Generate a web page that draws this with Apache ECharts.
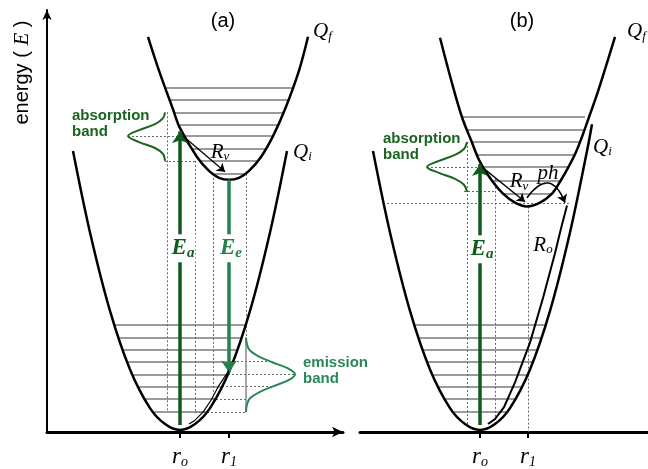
<!DOCTYPE html>
<html>
<head>
<meta charset="utf-8">
<script src="https://cdn.jsdelivr.net/npm/echarts@6/dist/echarts.min.js"></script>
<style>
  html, body { margin: 0; padding: 0; background: #fff; }
  #main { width: 648px; height: 469px; }
</style>
</head>
<body>
<div id="main"></div>
<script>
// x = configuration coordinate, E = energy (arbitrary units)
// ---- panel (a) ----
const qiA = [[26,283],[43,201],[63,122],[83,63],[103,24],[118,8],[133,2],[148,8],[163,24],[183,63],[203,122],[223,201],[240,283]];
const qfA = [[101,398],[112,364],[126,325],[133,306],[150,277],[162,263],[172,256],[182,254],[192,256],[202,263],[214,277],[226,298],[238,325],[252,364],[261,398]];
const qiLevelsA = [[67,199,108],[71,195,95],[76,190,83],[80,186,71],[85,181,58],[91,175,46],[97,169,33],[106,160,20]];
const qfLevelsA = [[118,246,347],[122,242,335],[127,237,322],[133,231,309],[138,226,298],[145,219,285],[153,211,273],[166,198,260]];
const absBandA = [[118,322],[116,316],[108,310],[92,304],[81,298],[92,292],[108,286],[116,280],[118,273]];
const emiBandA = [[199,95],[200,88],[203,82],[212,76],[226,70],[241,64],[248,58],[241,52],[226,46],[212,40],[203,34],[200,28],[199,20]];
const dotHA = [[81,133,298],[118,148,273],[186,224,71],[181,248,58],[175,226,46],[169,203,33],[148,199,20]];
const dotVA = [[120,322,20],[148,273,20],[166,260,33],[199,260,95]];
const eaA = [[133,7],[133,303]];
const eeA = [[182,254],[182,60]];
const rvA = [[136,298],[178,262]];
const relaxA = [[182,62],[172,47],[164,32],[156,20],[147,11],[142,8]];
const tickA = [133, 182];

// ---- panel (b) ----
const qiB = [[26,283],[43,201],[63,122],[83,63],[103,24],[118,8],[133,2],[148,8],[163,24],[183,63],[203,122],[223,201],[240,283],[245,310]];
const qfB = [[93,397],[104,355],[115,317],[124,294],[133,272],[145,253],[156,240],[168,231],[180,227],[193,231],[205,240],[213,252],[221,266],[229,282],[236,300],[243,320],[251,343],[268,398]];
const qiLevelsB = qiLevelsA;
const qfLevelsB = [[115,238,317],[119,236,304],[124,234,292],[130,229,279],[135,221,267],[145,213,253],[156,205,240]];
const absBandB = [[120,292],[117,285],[108,279],[92,273],[80,267],[92,261],[108,255],[117,249],[120,242]];
const dotHB = [[80,133,267],[117,148,242],[40,223,230]];
const dotVB = [[120,292,8],[148,255,12],[181,227,0]];
const eaB = [[133,7],[133,270]];
const rvB = [[136,266],[178,232]];
const phB = [[180,236],[218,231]];
const roB = [[220,228],[214,205],[208,180],[196,135],[183,90],[168,50],[157,25],[148,13],[141,8]];
const tickB = [133, 181];
const tickSubs = ['o', '1'];

const DARK = '#0f5a1c', EMI = '#23804f', ABS_TXT = '#1a6420', EMI_TXT = '#2a8758';
const SERIF = 'Liberation Serif', SANS = 'Liberation Sans';

const chart = echarts.init(document.getElementById('main'));

function curve(pts, g, color, width) {
  return { type: 'line', xAxisIndex: g, yAxisIndex: g, data: pts, smooth: 0.35, symbol: 'none',
    lineStyle: { color: color || '#000', width: width || 2.5 }, z: 5, silent: true };
}
function hsegs(rows, g, style, z) {
  return { type: 'lines', coordinateSystem: 'cartesian2d', xAxisIndex: g, yAxisIndex: g, z: z || 2, silent: true,
    data: rows.map(r => ({ coords: [[r[0], r[2]], [r[1], r[2]]] })), lineStyle: style };
}
function vsegs(rows, g, style, z) {
  return { type: 'lines', coordinateSystem: 'cartesian2d', xAxisIndex: g, yAxisIndex: g, z: z || 2, silent: true,
    data: rows.map(r => ({ coords: [[r[0], r[1]], [r[0], r[2]]] })), lineStyle: style };
}
function arrow(pts, g, color, width, size, curveness) {
  return { type: 'lines', coordinateSystem: 'cartesian2d', xAxisIndex: g, yAxisIndex: g, z: 6, silent: true,
    polyline: pts.length > 2, symbol: ['none', 'arrow'], symbolSize: size,
    data: [{ coords: pts }], lineStyle: { color: color, width: width, opacity: 1, curveness: curveness || 0 } };
}
const levelStyle = { color: '#7a7a7a', width: 1.5, opacity: 1 };
const dotStyle = { color: '#666', width: 1, type: [2, 2], opacity: 1 };

const rich = {
  it: { fontFamily: SERIF, fontStyle: 'italic', fontSize: 21, color: '#000' },
  sub: { fontFamily: SERIF, fontStyle: 'italic', fontSize: 13, color: '#000', padding: [9, 0, 0, 0] },
  eg: { fontFamily: SERIF, fontStyle: 'italic', fontWeight: 'bold', fontSize: 23, color: DARK },
  egs: { fontFamily: SERIF, fontStyle: 'italic', fontWeight: 'bold', fontSize: 15, color: DARK, padding: [9, 0, 0, 0] },
  ee: { fontFamily: SERIF, fontStyle: 'italic', fontWeight: 'bold', fontSize: 23, color: EMI },
  ees: { fontFamily: SERIF, fontStyle: 'italic', fontWeight: 'bold', fontSize: 15, color: EMI, padding: [9, 0, 0, 0] },
  sans: { fontFamily: SANS, fontSize: 20, color: '#000' },
  eitalic: { fontFamily: SERIF, fontStyle: 'italic', fontSize: 21, color: '#000' }
};

function txt(x, e, text, align, extra) {
  return { value: [x, e], label: Object.assign({ show: true, formatter: text, align: align || 'center',
    verticalAlign: 'middle', position: 'inside', rich: rich }, extra || {}) };
}
const whiteBg = { backgroundColor: '#fff', padding: [2, 1, 2, 1] };
const bandStyle = (c) => ({ fontFamily: SANS, fontSize: 15, fontWeight: 'bold', color: c, lineHeight: 16 });

const labelsA = [
  txt(176, 413, '{sans|(a)}'),
  txt(266, 403, '{it|Q}{sub|f}', 'left'),
  txt(246, 282, '{it|Q}{sub|i}', 'left'),
  txt(25, 310, 'absorption\nband', 'left', bandStyle(ABS_TXT)),
  txt(256, 62, 'emission\nband', 'left', bandStyle(EMI_TXT)),
  txt(136, 185, '{eg|E}{egs|a}', 'center', whiteBg),
  txt(184, 185, '{ee|E}{ees|e}', 'center', whiteBg),
  txt(173, 282, '{it|R}{sub|v}'),
  txt(-25, 362, '{sans|energy ( }{eitalic|E}{sans| )}', 'center', { rotate: 90 })
];
const labelsB = [
  txt(175, 413, '{sans|(b)}'),
  txt(280, 403, '{it|Q}{sub|f}', 'left'),
  txt(246, 287, '{it|Q}{sub|i}', 'left'),
  txt(36, 287, 'absorption\nband', 'left', bandStyle(ABS_TXT)),
  txt(135, 184, '{eg|E}{egs|a}', 'center', whiteBg),
  txt(172, 252, '{it|R}{sub|v}'),
  txt(201, 260, '{it|ph}'),
  txt(196, 188, '{it|R}{sub|o}')
];
function textSeries(data, g) {
  return { type: 'scatter', xAxisIndex: g, yAxisIndex: g, data: data, symbolSize: 1, clip: false, silent: true,
    itemStyle: { color: 'transparent', opacity: 1 }, z: 10 };
}

function xAxisCfg(g, min, max, ticks, withArrow) {
  return {
    gridIndex: g, type: 'value', min: min, max: max,
    axisLine: { show: true, onZero: false, symbol: withArrow ? ['none', 'arrow'] : ['none', 'none'], symbolSize: [8, 11],
      lineStyle: { color: '#000', width: 3 } },
    axisTick: { show: true, customValues: ticks, length: 6, lineStyle: { color: '#000', width: 2 } },
    axisLabel: { show: true, customValues: ticks, margin: 13,
      formatter: v => '{r|r}{s|' + tickSubs[ticks.indexOf(v)] + '}',
      rich: { r: { fontFamily: SERIF, fontStyle: 'italic', fontSize: 23, color: '#000' },
              s: { fontFamily: SERIF, fontStyle: 'italic', fontSize: 14, color: '#000', padding: [10, 0, 0, 0] } } },
    splitLine: { show: false }
  };
}

chart.setOption({
  animation: false,
  backgroundColor: '#fff',
  grid: [
    { left: 47, top: 10, width: 296, height: 425 },
    { left: 360, top: 10, width: 288, height: 425 }
  ],
  xAxis: [xAxisCfg(0, 0, 296, tickA, true), xAxisCfg(1, 13, 301, tickB, false)],
  yAxis: [
    { gridIndex: 0, type: 'value', min: 0, max: 425,
      axisLine: { show: true, onZero: false, symbol: ['none', 'arrow'], symbolSize: [7, 10], lineStyle: { color: '#000', width: 2 } },
      axisTick: { show: false }, axisLabel: { show: false }, splitLine: { show: false } },
    { gridIndex: 1, type: 'value', min: 0, max: 425, show: false }
  ],
  series: [
    // panel (a)
    hsegs(qiLevelsA, 0, levelStyle), hsegs(qfLevelsA, 0, levelStyle),
    hsegs(dotHA, 0, dotStyle, 3), vsegs(dotVA, 0, dotStyle, 3),
    vsegs([[199, 95, 20]], 0, { color: '#888', width: 1.5, opacity: 1 }, 3),
    curve(qiA, 0), curve(qfA, 0),
    curve(absBandA, 0, ABS_TXT, 2), curve(emiBandA, 0, EMI_TXT, 2),
    arrow(eaA, 0, DARK, 3.5, [10, 12]), arrow(eeA, 0, EMI, 3.5, [10, 12]),
    arrow(rvA, 0, '#000', 1.3, [6, 8]), arrow(relaxA, 0, '#000', 1.2, [5, 7]),
    textSeries(labelsA, 0),
    // panel (b)
    hsegs(qiLevelsB, 1, levelStyle), hsegs(qfLevelsB, 1, levelStyle),
    hsegs(dotHB, 1, dotStyle, 3), vsegs(dotVB, 1, dotStyle, 3),
    curve(qiB, 1), curve(qfB, 1),
    curve(absBandB, 1, ABS_TXT, 2),
    arrow(eaB, 1, DARK, 3.5, [10, 12]),
    arrow(rvB, 1, '#000', 1.3, [6, 8]),
    arrow(phB, 1, '#000', 1.6, [6, 8], 0.9),
    arrow(roB, 1, '#000', 2, [6, 8]),
    textSeries(labelsB, 1)
  ]
});
</script>
</body>
</html>
